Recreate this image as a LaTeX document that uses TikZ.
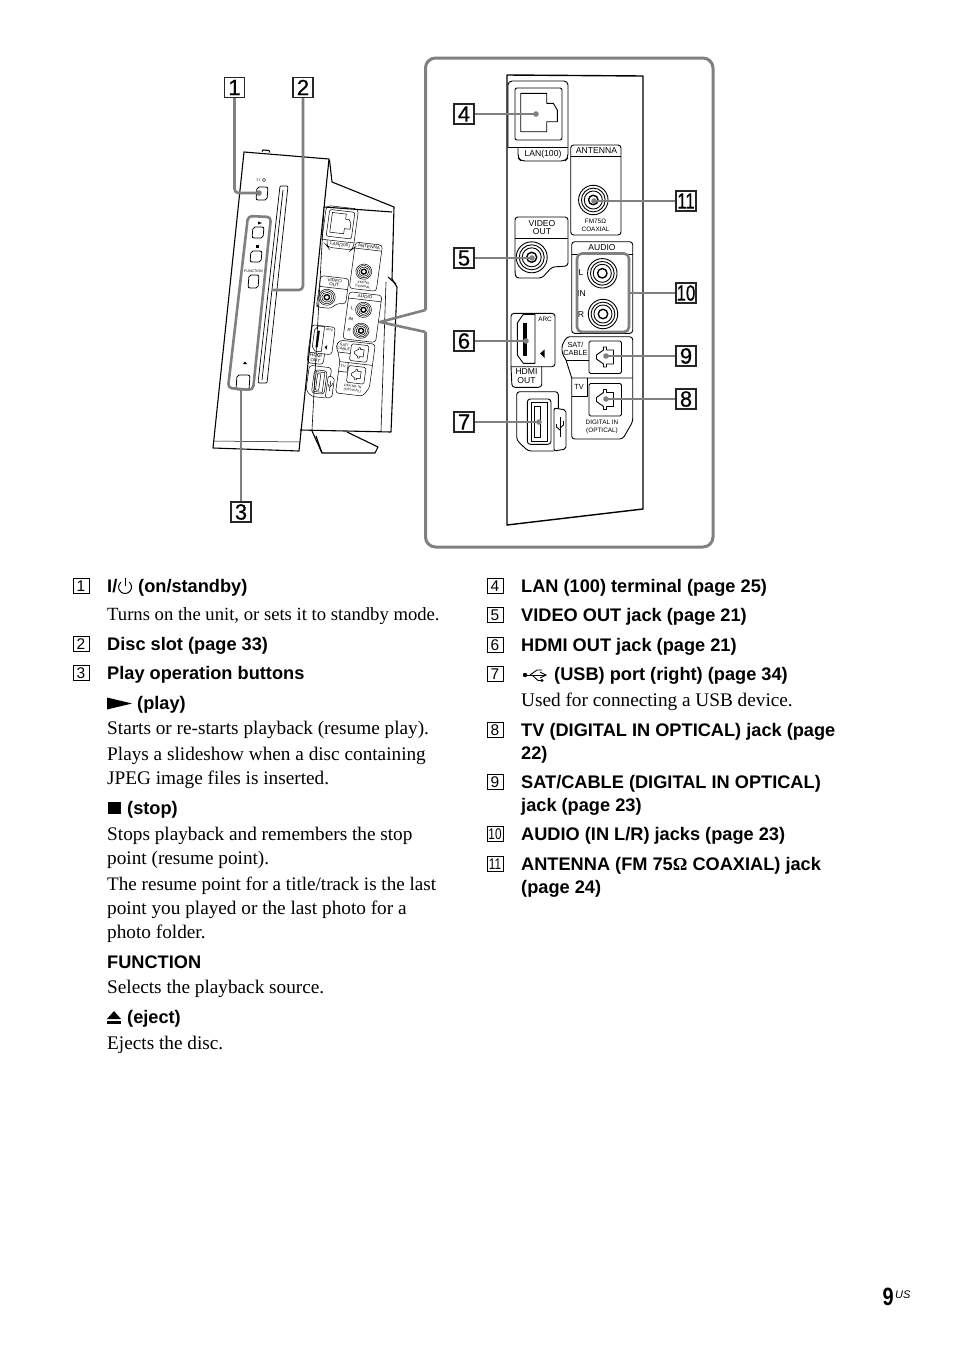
\documentclass[tikz,border=0pt]{standalone}
\usepackage{fontspec}
\usepackage{graphicx}
\setmainfont{Liberation Serif}
\setsansfont{Liberation Sans}
\newfontfamily\callfont[FakeBold=0.6]{Liberation Sans}
\definecolor{leadgray}{gray}{0.5}
\newcommand{\bodyfont}{\fontsize{19.25}{22}\selectfont\rmfamily}
\newcommand{\headfont}{\fontsize{18.2}{22}\selectfont\sffamily\bfseries}
\newcommand{\jt}[2]{\fontsize{#1}{#2}\selectfont\sffamily}
\newcommand{\narrow}[1]{\scalebox{.76}[1]{#1}}
\tikzset{
 body/.style={anchor=base west,inner sep=0pt,font=\bodyfont},
 head/.style={anchor=base west,inner sep=0pt,font=\headfont},
 callout/.style={draw=black!85,line width=1.2pt,fill=white,minimum width=20pt,minimum height=20pt,inner sep=0pt,font=\fontsize{22}{22}\selectfont\callfont},
 numbox/.style={draw=black,line width=.8pt,minimum width=16pt,minimum height=14.5pt,inner sep=0pt,font=\fontsize{15.5}{15.5}\selectfont\sffamily},
 leader/.style={draw=leadgray,line width=2.6pt,line join=round},
 lab/.style={inner sep=0pt,align=center},
}
\newcommand{\rca}[3]{%
 \begin{scope}[shift={(#1,#2)},scale=#3]
  \draw (0,0) circle (15.5);
  \draw (0,0) circle (12.5);
  \draw (0,0) circle (9.5);
  \draw[line width=1.4pt] (0,0) circle (5);
 \end{scope}}
\newcommand{\optj}[2]{%
 \begin{scope}[shift={(#1,#2)}]
  \draw[rounded corners=1.5] (-16.5,-16) rectangle (16,16.5);
  \draw (-2,-10)--(1,-10)--(1,-7)--(8,-7)--(8,7)--(1,7)--(1,10)--(-2,10)--(-2,7)--(-9,2)--(-9,-2)--(-2,-7)--cycle;
 \end{scope}}
\newcommand{\panelbits}{%
 % LAN
 \draw[rounded corners=4] (508,147)--(508,81)--(568,81)--(568,158)--(565,161)--(521,161)--(518,158)--(518,147);
 \draw (508,147)--(568,147);
 \draw[rounded corners=2] (515,88) rectangle (562,140);
 \draw (520.7,93.3)--(546.7,93.3)--(546.7,103.3)--(553.3,103.3)--(557.3,110)--(557.3,121.7)--(546.7,121.7)--(546.7,131.7)--(520.7,131.7)--cycle;
 \node[lab,font=\jt{8.6}{9}] (tlan) at (543,154) {LAN(100)};
 % antenna
 \draw[rounded corners=3] (570.7,156.7)--(570.7,145)--(621,145)--(621,235)--(570.7,235)--cycle;
 \draw (570.7,156.7)--(621,156.7);
 \node[lab,font=\jt{8.6}{9}] (tant) at (596.5,151) {ANTENNA};
 \rca{593.3}{200}{.95}
 \node[lab,font=\jt{6.4}{7.7}] (tfm) at (595.5,225) {FM75Ω\\COAXIAL};
 % video
 \draw[rounded corners=3] (515,238)--(515,217)--(568,217)--(568,266)--(552,267)--(542,278)--(516,278)--(515,273)--cycle;
 \draw (515,238)--(568,238);
 \node[lab,font=\jt{8.6}{8.5}] (tvid) at (542,227.5) {VIDEO\\OUT};
 \rca{531.7}{257.3}{1}
 % audio
 \draw[rounded corners=3] (571.7,254)--(571.7,241.7)--(632.7,241.7)--(632.7,333.4)--(571.7,333.4)--cycle;
 \draw (571.7,254)--(632.7,254);
 \node[lab,font=\jt{8.6}{9}] (taud) at (602,248) {AUDIO};
 \rca{602.3}{273.3}{.95}
 \rca{603}{314}{.95}
 \node[lab,font=\jt{8.6}{9}] (tl) at (581,273) {L};
 \node[lab,font=\jt{8.6}{9}] (tin) at (581.5,294) {IN};
 \node[lab,font=\jt{8.6}{9}] (tr) at (581,315) {R};
 % sat/cable + tv
 \draw[rounded corners=3] (566,360)--(562,353)--(562,345)--(567,336.7)--(632.7,336.7)--(632.7,421.7)--(622.7,439)--(571.7,439)--(571.7,378);
 \draw (566,360)--(589,360);
 \draw (566,360)--(571.7,378)--(632.7,378);
 \draw (571.7,396.7)--(587.7,396.7)--(587.7,378);
 \optj{605.5}{357}
 \optj{605.5}{399.5}
 \node[lab,font=\jt{7.4}{8}] (tsat) at (575.5,349) {SAT/\\CABLE};
 \node[lab,font=\jt{7.4}{8}] (ttv) at (579,387) {TV};
 \node[lab,font=\jt{6.4}{8}] (tdig) at (602,427) {DIGITAL IN\\(OPTICAL)};
 % hdmi
 \draw[rounded corners=3] (511,366.7)--(511,313.3)--(555,313.3)--(555,366.7)--(511,366.7);
 \draw[rounded corners=3] (511,366.7)--(512,387.3)--(541.7,387.3)--(541.7,366.7);
 \draw (517.3,323)--(523.3,314.3)--(535,314.3)--(535,363.3)--(523.3,363.3)--(517.3,355)--cycle;
 \fill (523.3,323.3) rectangle (527.3,355.7);
 \fill (540,353.5)--(544.5,349.5)--(544.5,358)--cycle;
 \node[lab,font=\jt{6.4}{8}] (tarc) at (545,319.5) {ARC};
 \node[lab,font=\jt{8.6}{9}] (thd) at (526.5,376.5) {HDMI\\OUT};
 % usb
 \draw[rounded corners=3] (554,451)--(528,451)--(516.7,440)--(516.7,391.7)--(558.3,391.7)--(558.3,408.3);
 \draw[rounded corners=2] (554,451)--(554,408)--(566,410)--(566,449)--cycle;
 \draw[rounded corners=3] (527.3,399) rectangle (551,444.3);
 \draw (531,402.5) rectangle (547,441);
 \draw (534,406) rectangle (540,437.7);
 \draw (560,417)--(560,437);
 \draw (556.5,424)--(556.5,427)--(560,430);
 \draw (563.5,421)--(563.5,425)--(560,428);
}
\begin{document}
\begin{tikzpicture}[x=1pt,y=-1pt,line cap=butt]
\useasboundingbox[fill=white] (0,0) rectangle (954,1352);

%%% side view
\begin{scope}[line width=1.1pt,line join=round]
 \draw (244,152)--(329,159)--(299,451)--(213,448)--cycle;
 \draw[line width=.5pt] (214,441)--(300,442);
 \draw (262,151.5)--(263,150)--(269,150.5)--(270,152.5);
 \draw (329.5,160)--(332,182)--(394,207)--(392,279)--(397,287)--(391,432)--(300,430);
 \draw (388,277)--(396,284);
 \draw[line width=.6pt] (386,282)--(381,431);
 \draw (324,207)--(392,212);
 \draw[line width=.6pt] (324,207)--(312,430);
 \draw (312,431)--(322,453)--(375,453)--(378,447)--(347,432);
 \draw (322,453)--(316,436);
 \draw[line width=.7pt,rounded corners=1] (280,186)--(288,186)--(267,383)--(258,383)--cycle;
 \draw[line width=.7pt] (283,190)--(262,380);
 \draw[rounded corners=2,line width=.8pt] (257,187)--(268,187)--(267,200)--(256,200)--cycle;
 \draw[rounded corners=2,line width=.8pt] (253,227)--(264,227)--(263,238)--(252,238)--cycle;
 \draw[rounded corners=2,line width=.8pt] (251,251)--(262,251)--(261,262)--(250,262)--cycle;
 \draw[rounded corners=2,line width=.8pt] (249,275)--(259,275)--(258,288)--(248,288)--cycle;
 \draw[rounded corners=2,line width=.8pt] (237,375)--(250,375)--(249,390)--(236,390)--cycle;
 \fill (258,221.5)--(258,224.5)--(262,223)--cycle;
 \fill (255.5,244.5) rectangle (258.5,247.5);
 \fill (243,364)--(245,361.5)--(247,364)--cycle;
 \node[lab,font=\jt{3.6}{4}] (tfunc) at (253.5,271) {FUNCTION};
 \node[lab,font=\jt{4.5}{5}] (tpow) at (258.5,180) {I /};
 \draw[line width=.4pt] (264,180) circle (1.7);
\end{scope}
\begin{scope}[cm={0.535,-0.0617,0.07,0.5128,(60.4pt,-132.5pt)},line width=.5pt,every node/.append style={transform shape}]
 \panelbits
\end{scope}

%%% enlarged panel
\draw[line width=1.4pt,line join=round] (507,75)--(643,76)--(643,509)--(507,525)--cycle;
\begin{scope}[line width=.9pt,line join=round]
 \panelbits
\end{scope}

%%% frame
\coordinate (ftip) at (380,322);
\coordinate (fa) at (425.5,310);
\coordinate (fb) at (425.5,332);
\draw[leader,line width=3pt,rounded corners=10] (fa)--(425.5,58)--(713,58)--(713,547)--(425.5,547)--(fb);
\draw[leader] (fa)--(ftip)--(fb);

%%% gray outlines
\draw[leader,rounded corners=4] (248,216)--(271,217)--(253,390)--(228,388)--cycle;
\draw[leader,rounded corners=5] (577,253.5) rectangle (629,332);

%%% callouts and leaders
\node[callout] (c1) at (234.5,87.5) {1};
\node[callout] (c2) at (303,87.5) {2};
\node[callout] (c3) at (241,512) {3};
\node[callout] (c4) at (464,114) {4};
\node[callout] (c5) at (464,258) {5};
\node[callout] (c6) at (464,341) {6};
\node[callout] (c7) at (464,422) {7};
\node[callout] (c8) at (686,399) {8};
\node[callout] (c9) at (686,356) {9};
\node[callout] (c10) at (686,293) {\narrow{10}};
\node[callout] (c11) at (686,201) {\narrow{11}};
\coordinate (t1) at (259,193);
\coordinate (t2) at (272,290);
\coordinate (t3) at (241,389);
\coordinate (t4) at (536,114);
\coordinate (t5) at (532,258);
\coordinate (t6) at (526,341);
\coordinate (t7) at (539,422);
\coordinate (t8) at (606,399);
\coordinate (t9) at (606,356);
\coordinate (t10) at (629,293);
\coordinate (t11) at (594,201);
\draw[leader,rounded corners=4] (c1.south)|-(t1);
\draw[leader,rounded corners=4] (c2.south)|-(t2);
\draw[leader] (c3.north)--(t3);
\foreach \n in {4,5,6,7}{\draw[leader] (c\n.east)--(t\n);}
\foreach \n in {8,9,10,11}{\draw[leader] (c\n.west)--(t\n);}
\foreach \n in {1,4,5,6,7,8,9,11}{\fill[leadgray] (t\n) circle (2.8);}

%%% left column
\node[numbox] (n1) at (81,586) {1};
\node[numbox] (n2) at (81,644) {2};
\node[numbox] (n3) at (81,673) {3};
\node[head] (h1a) at (107,592) {I/};
\draw[line width=1pt] (129.2,582) arc[start angle=-50,end angle=230,radius=6.5];
\draw[line width=1pt] (125,577.5)--(125,586);
\node[head] (h1) at (138,592) {(on/standby)};
\node[body,font=\fontsize{18.65}{22}\selectfont\rmfamily] (b1) at (107,620) {Turns on the unit, or sets it to standby mode.};
\node[head] (h2) at (107,650) {Disc slot (page 33)};
\node[head] (h3) at (107,679) {Play operation buttons};
\fill (107,697.5)--(132,703.5)--(107,709.5)--cycle;
\node[head] (hp) at (137,709) {(play)};
\node[body] (bp1) at (107,734) {Starts or re-starts playback (resume play).};
\node[body] (bp2) at (107,760) {Plays a slideshow when a disc containing};
\node[body] (bp3) at (107,784) {JPEG image files is inserted.};
\fill (107.5,802) rectangle (121,814);
\node[head] (hs) at (127,814) {(stop)};
\node[body] (bs1) at (107,840) {Stops playback and remembers the stop};
\node[body] (bs2) at (107,864) {point (resume point).};
\node[body,font=\fontsize{19.1}{22}\selectfont\rmfamily] (bs3) at (107,890) {The resume point for a title/track is the last};
\node[body] (bs4) at (107,914) {point you played or the last photo for a};
\node[body] (bs5) at (107,938) {photo folder.};
\node[head] (hf) at (107,968) {FUNCTION};
\node[body] (bf) at (107,993) {Selects the playback source.};
\fill (114,1011)--(121,1019)--(107,1019)--cycle;
\fill (107,1020.5) rectangle (121,1023.5);
\node[head] (he) at (127,1023) {(eject)};
\node[body] (be) at (107,1049) {Ejects the disc.};

%%% right column
\node[numbox] (n4) at (495,586) {4};
\node[numbox] (n5) at (495,615) {5};
\node[numbox] (n6) at (495,645) {6};
\node[numbox] (n7) at (495,674) {7};
\node[numbox] (n8) at (495,730) {8};
\node[numbox] (n9) at (495,782) {9};
\node[numbox] (n10) at (495,834) {\narrow{10}};
\node[numbox] (n11) at (495,864) {\narrow{11}};
\node[head] (r4) at (521,592) {LAN (100) terminal (page 25)};
\node[head] (r5) at (521,621) {VIDEO OUT jack (page 21)};
\node[head] (r6) at (521,651) {HDMI OUT jack (page 21)};
\begin{scope}[line width=.9pt]
 \draw (525,675)--(546,675);
 \draw (540,672)--(546,675)--(540,678);
 \fill (525,675) circle (2.2);
 \draw (530,675)--(537,670)--(542,670);
 \draw (532,675)--(538,680.5)--(541,680.5);
 \fill (542,680.5) circle (1.6);
\end{scope}
\node[head] (r7) at (554,680) {(USB) port (right) (page 34)};
\node[body] (r7b) at (521,706) {Used for connecting a USB device.};
\node[head] (r8) at (521,736) {TV (DIGITAL IN OPTICAL) jack (page};
\node[head] (r8b) at (521,759) {22)};
\node[head] (r9) at (521,788) {SAT/CABLE (DIGITAL IN OPTICAL)};
\node[head] (r9b) at (521,811) {jack (page 23)};
\node[head] (r10) at (521,840) {AUDIO (IN L/R) jacks (page 23)};
\node[head] (r11) at (521,870) {ANTENNA (FM 75{\rmfamily Ω} COAXIAL) jack};
\node[head] (r11b) at (521,893) {(page 24)};

%%% page number
\node[anchor=base west,inner sep=0pt,font=\fontsize{25}{25}\selectfont\sffamily\bfseries] (pg) at (882.5,1305) {\scalebox{.8}[1]{9}};
\node[anchor=base west,inner sep=0pt,font=\fontsize{11}{11}\selectfont\sffamily\itshape] (pgus) at (895,1298) {US};
\end{tikzpicture}
\end{document}
